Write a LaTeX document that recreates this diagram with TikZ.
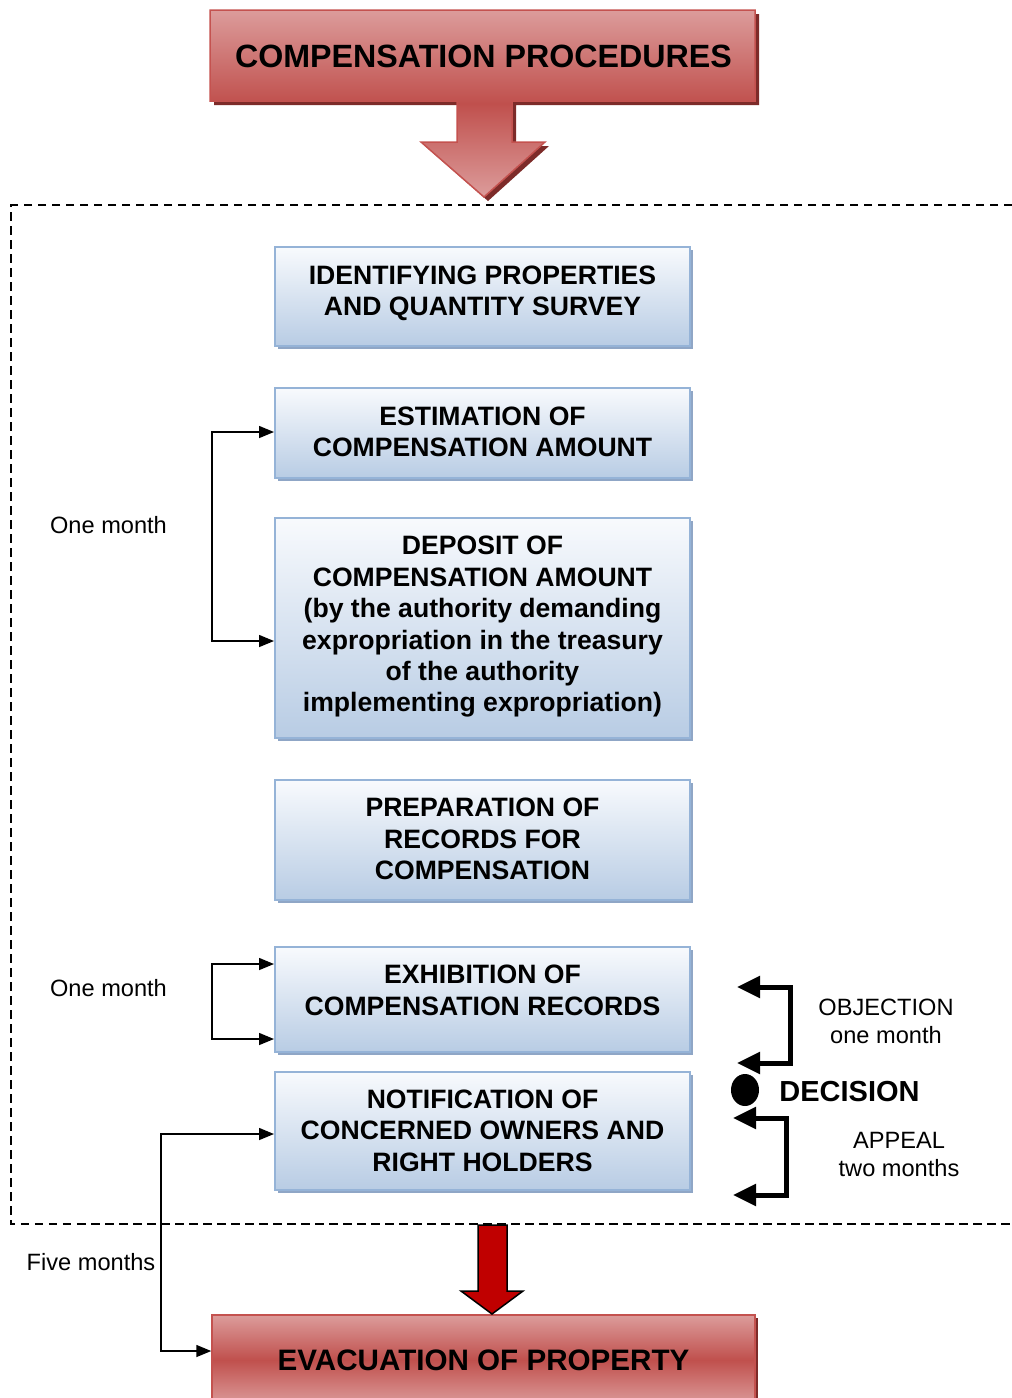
\documentclass[tikz,border=0pt]{standalone}
\usepackage{fontspec}
\setmainfont{Liberation Sans}
\usetikzlibrary{arrows.meta,shapes.geometric,shadows}

\definecolor{redlight}{HTML}{DC9C9B}
\definecolor{reddark}{HTML}{C0504D}
\definecolor{redline}{HTML}{C4524F}
\definecolor{redshadow}{HTML}{7D2B29}
\definecolor{bluetop}{HTML}{F8FAFD}
\definecolor{bluebottom}{HTML}{B8CCE4}
\definecolor{blueline}{HTML}{95B3D7}
\definecolor{blueshadow}{HTML}{8FA6C6}
\definecolor{arrowred}{HTML}{C00000}

\begin{document}
\begin{tikzpicture}[x=1pt,y=-1pt,
  bluebox/.style={draw=blueline, line width=2pt, top color=bluetop, bottom color=bluebottom,
    minimum width=415pt, inner sep=0pt,
    general shadow={fill=blueshadow, shadow xshift=3pt, shadow yshift=-3pt}},
  redbox/.style={draw=redline, line width=1.5pt, top color=redlight, bottom color=redlight,
    middle color=reddark, inner sep=0pt,
    general shadow={fill=redshadow, shadow xshift=3pt, shadow yshift=-3pt}},
  boxtext/.style={font=\bfseries\fontsize{26.6}{31.4}\selectfont, align=center, inner sep=0pt},
  sidetext/.style={font=\fontsize{23.6}{28}\selectfont, align=center, inner sep=0pt},
  conn/.style={line width=1.5pt, arrows={Triangle[length=15pt,width=12pt]-Triangle[length=15pt,width=12pt]}},
  bigconn/.style={line width=5pt, miter limit=10,
    arrows={Triangle[length=23pt,width=21pt]-Triangle[length=23pt,width=21pt]}},
  dashframe/.style={line width=2pt, dash pattern=on 8.5pt off 5.5pt}
]
\useasboundingbox (0,0) rectangle (1012,1398);
\clip (0,0) rectangle (1012,1398);

% header callout: box with a down arrow, shadow first
\fill[redshadow, shift={(4,4)}]
  (210,10) -- (755,10) -- (755,101) -- (512,101) -- (512,142) -- (545,142)
  -- (484,197) -- (421,142) -- (457,142) -- (457,101) -- (210,101) -- cycle;
\path[draw=redline, line width=1.5pt, top color=redlight, bottom color=redlight, middle color=reddark]
  (210,10) -- (755,10) -- (755,101) -- (512,101) -- (512,142) -- (545,142)
  -- (484,197) -- (421,142) -- (457,142) -- (457,101) -- (210,101) -- cycle;
\node[font=\bfseries\fontsize{32.2}{38}\selectfont, inner sep=0pt] (title) at (483.5,56) {COMPENSATION PROCEDURES};

% dashed frame, open on the right
\draw[dashframe] (1012,205) -- (11,205) -- (11,1224) -- (1012,1224);

% process boxes
\node[bluebox, minimum height=99pt]  (b1) at (482.5,296.5) {};
\node[boxtext] (t1) at (482.5,293.5) {IDENTIFYING PROPERTIES\\AND QUANTITY SURVEY};

\node[bluebox, minimum height=90pt]  (b2) at (482.5,433) {};
\node[boxtext] (t2) at (482.5,432) {ESTIMATION OF\\COMPENSATION AMOUNT};

\node[bluebox, minimum height=220pt] (b3) at (482.5,628) {};
\node[boxtext] (t3) at (482.5,627) {DEPOSIT OF\\COMPENSATION AMOUNT\\(by the authority demanding\\expropriation in the treasury\\of the authority\\implementing expropriation)};

\node[bluebox, minimum height=120pt] (b4) at (482.5,840) {};
\node[boxtext] (t4) at (482.5,839) {PREPARATION OF\\RECORDS FOR\\COMPENSATION};

\node[bluebox, minimum height=105pt] (b5) at (482.5,999.5) {};
\node[boxtext] (t5) at (482.5,990.5) {EXHIBITION OF\\COMPENSATION RECORDS};

\node[bluebox, minimum height=118pt] (b6) at (482.5,1131) {};
\node[boxtext] (t6) at (482.5,1130.5) {NOTIFICATION OF\\CONCERNED OWNERS AND\\RIGHT HOLDERS};

% final box
\node[redbox, minimum width=543pt, minimum height=90pt] (evac) at (483.5,1360) {};
\node[font=\bfseries\fontsize{29.6}{34}\selectfont, inner sep=0pt] (tevac) at (483.5,1360) {EVACUATION OF PROPERTY};

% red arrow into the final box
\draw[line width=1.5pt, fill=arrowred, line join=miter]
  (478,1225) -- (507,1225) -- (507,1291) -- (523,1291) -- (492,1314)
  -- (461,1291) -- (478,1291) -- cycle;

% time spans on the left
\coordinate (om1a) at (212,432);
\coordinate (om1b) at (212,641);
\draw[conn] (b2.west |- om1a) -- (om1a) -- (om1b) -- (b3.west |- om1b);
\node[sidetext] (lom1) at (108.5,525) {One month};

\coordinate (om2a) at (212,964);
\coordinate (om2b) at (212,1039);
\draw[conn] (b5.west |- om2a) -- (om2a) -- (om2b) -- (b5.west |- om2b);
\node[sidetext] (lom2) at (108.5,988) {One month};

\coordinate (fma) at (161,1134);
\coordinate (fmb) at (161,1351);
\draw[conn] (b6.west |- fma) -- (fma) -- (fmb) -- (evac.west |- fmb);
\node[sidetext] (lfm) at (91,1262) {Five months};

% objection / appeal brackets on the right
\coordinate (oa) at (737,987);
\coordinate (ob) at (737,1063);
\draw[bigconn] (oa) -- (790,987) -- (790,1063) -- (ob);
\node[sidetext] (lobj) at (886,1021) {OBJECTION\\one month};

\node[ellipse, fill=black, inner sep=0pt, minimum width=28pt, minimum height=32pt] (dot) at (745,1090) {};
\node[font=\bfseries\fontsize{29}{34}\selectfont, inner sep=0pt] (dec) at (849.5,1092) {DECISION};

\coordinate (aa) at (733,1118);
\coordinate (ab) at (733,1195);
\draw[bigconn] (aa) -- (786,1118) -- (786,1195) -- (ab);
\node[sidetext] (lapp) at (899,1154) {APPEAL\\two months};
\end{tikzpicture}
\end{document}
